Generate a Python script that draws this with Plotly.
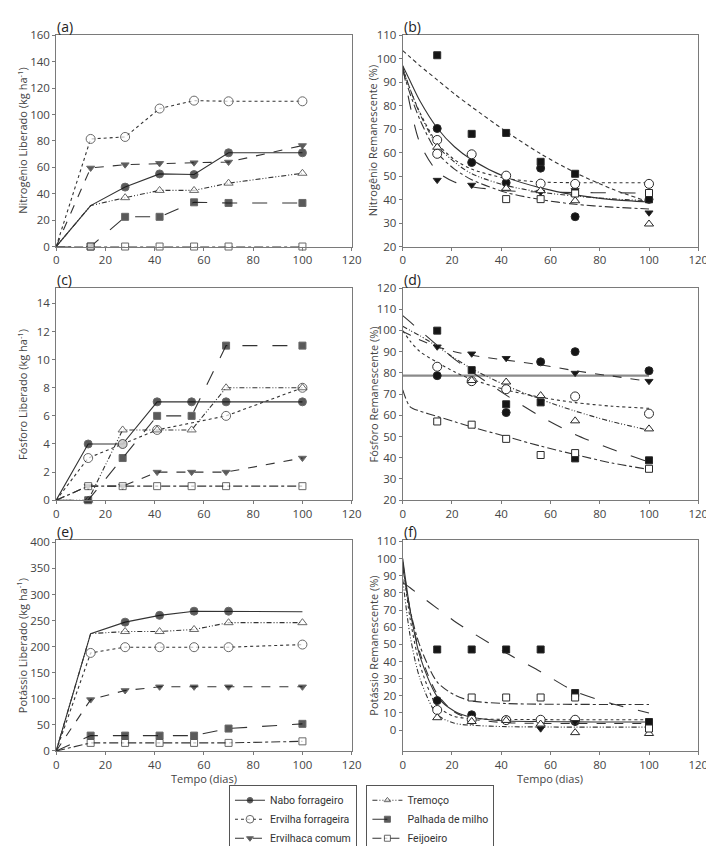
import plotly.graph_objects as go

# ---------------- DATA ----------------
SERIES = ["Nabo forrageiro", "Ervilha forrageira", "Ervilhaca comum",
          "Tremoço", "Palhada de milho", "Feijoeiro"]

# (a) Nitrogen released (kg/ha)
X_A = [0, 14, 28, 42, 56, 70, 100]
A_NABO = [0, 31, 45, 55, 54.5, 71, 71]
A_ERVILHA = [0, 81.5, 83, 104.5, 110.5, 110, 110]
A_ERVILHACA = [0, 59.5, 62, 63, 63.5, 64, 76.5]
A_TREMOCO = [0, 31, 37, 42.5, 42.5, 48, 55.5]
A_PALHADA = [0, 0, 22.5, 22.5, 33.5, 33, 33]
A_FEIJOEIRO = [0, 0, 0, 0, 0, 0, 0]

# (b) Nitrogen remaining (%) - observed
X_B = [14, 28, 42, 56, 70, 100]
B_NABO = [70.3, 55.8, 47.2, 53.4, 32.7, 40.1]
B_ERVILHA = [65.4, 59.3, 50.2, 46.8, 46.7, 46.7]
B_ERVILHA_EXTRA_X = [14]
B_ERVILHA_EXTRA = [59.5]
B_ERVILHACA = [48.3, 46.2, None, 43.2, 43.9, 34.4]
B_TREMOCO = [62.3, None, 44.8, 43.8, 39.5, 29.6]
B_PALHADA = [101.5, 68.0, 68.4, 56.1, 51.0, 40.1]
B_FEIJOEIRO = [None, None, 40.2, 40.2, 42.6, 42.8]
# (b) fitted curves
XC = [0, 3, 7, 14, 21, 28, 42, 56, 70, 85, 100]
BC_NABO = [97, 90.5, 82, 70.5, 62.5, 57, 49.5, 45, 42, 40, 39]
BC_ERVILHA = [96, 87, 77, 64, 57, 53, 49, 47.5, 47.2, 47.2, 47.2]
BC_ERVILHACA = [97, 80, 64, 52, 47.5, 45.5, 43.8, 43.2, 43, 42.9, 42.8]
BC_TREMOCO = [96, 87, 76.5, 63, 56, 51, 46, 43.2, 41.5, 40.3, 39.5]
BC_PALHADA = [103.5, 100.7, 97, 91, 85, 79.5, 69, 59.5, 51.5, 44.5, 39]
BC_FEIJOEIRO = [95, 85, 74, 60, 53, 48.5, 43, 40, 38, 36.8, 36]

# (c) Phosphorus released (kg/ha)
X_C = [0, 13, 27, 41, 55, 69, 100]
C_NABO = [0, 4, 4, 7, 7, 7, 7]
C_ERVILHA = [0, 3, 4, 5, None, 6, 8]
C_ERVILHACA = [0, 1, 1, 2, 2, 2, 3]
C_TREMOCO = [0, 0, 5, 5, 5, 8, 8]
C_PALHADA = [0, 0, 3, 6, 6, 11, 11]
C_FEIJOEIRO = [0, 1, 1, 1, 1, 1, 1]

# (d) Phosphorus remaining (%) - observed
X_D = [14, 28, 42, 56, 70, 100]
D_NABO = [78.7, None, 61.3, 85.2, 90.0, 81.0]
D_ERVILHA = [82.9, 76.1, 72.3, None, 68.9, 60.8]
D_ERVILHACA = [92.3, 89.0, 86.9, None, 79.9, 76.1]
D_TREMOCO = [None, 76.4, 75.7, 69.3, 57.4, 53.6]
D_PALHADA = [99.9, 81.3, 65.2, 66.1, 39.7, 38.8]
D_FEIJOEIRO = [57.1, 55.6, 48.9, 41.3, 42.2, 34.8]
# (d) fitted curves
DC_NABO = [78.7] * 11
DC_ERVILHA = [100, 95, 90, 85, 80.5, 77, 72, 68.5, 66, 64.3, 63.3]
DC_ERVILHACA = [99.5, 97.8, 95.5, 92.3, 90, 88.3, 86, 83.8, 81, 78.5, 76]
DC_TREMOCO = [102, 100, 97.5, 92.5, 87, 82, 74, 67.5, 62, 57, 53]
DC_PALHADA = [107, 104, 100, 93, 86.5, 80.5, 69.5, 59.5, 51, 44, 38]
DC_FEIJOEIRO = [72, 64, 62, 59.5, 57, 54.5, 50, 45.5, 41.5, 37.5, 34.5]

# (e) Potassium released (kg/ha)
X_E = [0, 14, 28, 42, 56, 70, 100]
E_NABO = [0, 225, 247, 260, 268, 268, 267]
E_ERVILHA = [0, 188, 199, 199, 199, 199, 204]
E_ERVILHACA = [0, 98.5, 116, 123, 123, 123, 123]
E_TREMOCO = [0, 225, 229, 229, 233, 246, 246]
E_PALHADA = [0, 29.5, 29.5, 29.5, 29.5, 43, 52]
E_FEIJOEIRO = [0, 15.5, 15.5, 15.5, 15.5, 15.5, 18.5]

# (f) Potassium remaining (%) - observed
X_F = [14, 28, 42, 56, 70, 100]
F_NABO = [17.2, 8.9, 6.0, None, 5.0, None]
F_ERVILHA = [11.7, 6.0, 5.8, 6.0, 6.0, None]
F_ERVILHACA = [None, None, None, 0.8, 4.5, None]
F_TREMOCO = [7.2, 5.0, 5.6, 3.5, -1.5, -2.0]
F_PALHADA = [47, 47, 47, 47, 21.6, 4.7]
F_FEIJOEIRO = [None, 19, 19, 19, 19, 0.9]
# (f) fitted curves
FC_NABO = [100, 70, 43, 19.5, 11, 7.5, 5.3, 5, 4.8, 4.7, 4.7]
FC_ERVILHA = [97, 65, 38, 14, 8, 6.7, 6.2, 6.1, 6, 6, 6]
FC_ERVILHACA = [98, 70, 45, 21, 10.5, 6.5, 4.3, 3.9, 3.8, 3.8, 3.8]
FC_TREMOCO = [88, 55, 30, 9, 4, 2.8, 2, 1.8, 1.7, 1.7, 1.7]
FC_PALHADA = [86, 83, 78.5, 71, 63.5, 57, 45, 34, 22.5, 15.4, 10]
FC_FEIJOEIRO = [95, 70, 49, 28, 20.5, 17, 15.5, 15.1, 15, 14.9, 14.9]

TITLES_Y = ["Nitrogênio Liberado (kg ha<sup>-1</sup>)", "Nitrogênio Remanescente (%)",
            "Fósforo Liberado (kg ha<sup>-1</sup>)", "Fósforo Remanescente (%)",
            "Potássio Liberado (kg ha<sup>-1</sup>)", "Potássio Remanescente (%)"]
PANEL_LABELS = ["(a)", "(b)", "(c)", "(d)", "(e)", "(f)"]
X_TITLE = "Tempo (dias)"

# ---------------- STYLES ----------------
W, H = 714, 846
FONT = "Open Sans"
LC = "#333333"
STYLE = {
    "Nabo forrageiro": dict(dash="solid", symbol="circle", fill="#151515", size=8),
    "Ervilha forrageira": dict(dash="dot", symbol="circle", fill="white", size=9),
    "Ervilhaca comum": dict(dash="dash", symbol="triangle-down", fill="#151515", size=7),
    "Tremoço": dict(dash="5px,2px,1px,2px,1px,2px", symbol="triangle-up", fill="white", size=8),
    "Palhada de milho": dict(dash="longdash", symbol="square", fill="#151515", size=7),
    "Feijoeiro": dict(dash="dashdot", symbol="square", fill="white", size=7),
}
CURVE_DASH_B = {"Palhada de milho": "4px,3px", "Ervilhaca comum": "longdash"}

# pixel boxes for panels: (left, right, top, bottom)
COLS = [(46, 347), (399, 700)]
ROWS = [(20, 239), (282, 502), (543, 762)]

fig = go.Figure()


def ax_names(i):
    n = "" if i == 0 else str(i + 1)
    return "x" + n, "y" + n, "xaxis" + n, "yaxis" + n


def marker(name, sizes=None):
    st = STYLE[name]
    return dict(symbol=st["symbol"], size=sizes if sizes is not None else st["size"],
                color=st["fill"], line=dict(color="#2a2a2a", width=1))


def released(i, xs, series_vals, hidden=None, show_legend=False):
    xa, ya, _, _ = ax_names(i)
    hidden = hidden or {}
    for name, vals in zip(SERIES, series_vals):
        st = STYLE[name]
        sizes = [0 if (j == 0 or j in hidden.get(name, [])) else st["size"]
                 for j in range(len(xs))]
        leg = "legend" if SERIES.index(name) < 3 else "legend2"
        fig.add_trace(go.Scatter(
            x=xs, y=vals, mode="lines+markers", name=name, xaxis=xa, yaxis=ya,
            line=dict(color=LC, width=1.1, dash=st["dash"]),
            marker=marker(name, sizes), connectgaps=True, cliponaxis=False,
            showlegend=show_legend, legend=leg))


def remaining(i, xs, obs, curves, extra=None):
    xa, ya, _, _ = ax_names(i)
    for name, cur in zip(SERIES, curves):
        st = STYLE[name]
        lw, lc = 1.1, LC
        dash = st["dash"]
        if i == 1 and name in CURVE_DASH_B:
            dash = CURVE_DASH_B[name]
        if i == 3 and name == "Nabo forrageiro":
            lw, lc = 2.2, "#8a8a8a"
        fig.add_trace(go.Scatter(
            x=XC, y=cur, mode="lines", xaxis=xa, yaxis=ya, showlegend=False,
            line=dict(color=lc, width=lw, dash=dash, shape="spline", smoothing=0.8),
            cliponaxis=True))
    for name, vals in zip(SERIES, obs):
        fig.add_trace(go.Scatter(
            x=xs, y=vals, mode="markers", xaxis=xa, yaxis=ya, showlegend=False,
            marker=marker(name), cliponaxis=False))
    if extra:
        for name, ex, ey in extra:
            fig.add_trace(go.Scatter(
                x=ex, y=ey, mode="markers", xaxis=xa, yaxis=ya, showlegend=False,
                marker=marker(name), cliponaxis=False))


released(0, X_A, [A_NABO, A_ERVILHA, A_ERVILHACA, A_TREMOCO, A_PALHADA, A_FEIJOEIRO],
         hidden={"Nabo forrageiro": [1], "Tremoço": [1]}, show_legend=True)
remaining(1, X_B, [B_NABO, B_ERVILHA, B_ERVILHACA, B_TREMOCO, B_PALHADA, B_FEIJOEIRO],
          [BC_NABO, BC_ERVILHA, BC_ERVILHACA, BC_TREMOCO, BC_PALHADA, BC_FEIJOEIRO],
          extra=[("Ervilha forrageira", B_ERVILHA_EXTRA_X, B_ERVILHA_EXTRA)])
released(2, X_C, [C_NABO, C_ERVILHA, C_ERVILHACA, C_TREMOCO, C_PALHADA, C_FEIJOEIRO])
remaining(3, X_D, [D_NABO, D_ERVILHA, D_ERVILHACA, D_TREMOCO, D_PALHADA, D_FEIJOEIRO],
          [DC_NABO, DC_ERVILHA, DC_ERVILHACA, DC_TREMOCO, DC_PALHADA, DC_FEIJOEIRO])
released(4, X_E, [E_NABO, E_ERVILHA, E_ERVILHACA, E_TREMOCO, E_PALHADA, E_FEIJOEIRO],
         hidden={"Nabo forrageiro": [1, 6], "Tremoço": [1]})
remaining(5, X_F, [F_NABO, F_ERVILHA, F_ERVILHACA, F_TREMOCO, F_PALHADA, F_FEIJOEIRO],
          [FC_NABO, FC_ERVILHA, FC_ERVILHACA, FC_TREMOCO, FC_PALHADA, FC_FEIJOEIRO])

Y_RANGES = [[0, 160], [20, 110], [0, 15.1], [20, 120], [0, 405], [-12.2, 111]]
Y_DTICK = [20, 10, 2, 10, 50, 10]
Y_TICKS_F = list(range(0, 111, 10))

layout = dict(width=W, height=H, margin=dict(l=0, r=0, t=0, b=0),
              paper_bgcolor="white", plot_bgcolor="white",
              font=dict(family=FONT, color="#444", size=12))
ann = []
for i in range(6):
    r, c = divmod(i, 2)
    (l, rr), (t, b) = COLS[c], ROWS[r]
    xa, ya, xk, yk = ax_names(i)
    axstyle = dict(showline=True, linecolor="#7a7a7a", linewidth=1, mirror=True,
                   showgrid=False, zeroline=False, ticks="outside", ticklen=3,
                   tickcolor="#7a7a7a", tickfont=dict(size=11.5, color="#444"))
    layout[xk] = dict(domain=[l / W, rr / W], anchor=ya, range=[0, 120],
                      tickmode="linear", tick0=0, dtick=20, **axstyle)
    yd = dict(domain=[1 - b / H, 1 - t / H], anchor=xa, range=Y_RANGES[i], **axstyle)
    if i == 5:
        yd.update(tickmode="array", tickvals=Y_TICKS_F)
    else:
        yd.update(tickmode="linear", tick0=0, dtick=Y_DTICK[i])
    layout[yk] = yd
    ann.append(dict(text=PANEL_LABELS[i], x=(l - 1) / W, y=1 - (t - 9) / H,
                    xref="paper", yref="paper", xanchor="left", yanchor="middle",
                    showarrow=False, font=dict(size=14, color="#222")))
    tx = 12 if c == 0 else 369
    ann.append(dict(text=TITLES_Y[i], x=tx / W, y=1 - ((t + b) / 2) / H,
                    xref="paper", yref="paper", xanchor="center", yanchor="middle",
                    textangle=-90, showarrow=False, font=dict(size=11, color="#444")))
    if r == 2:
        ann.append(dict(text=X_TITLE, x=((l + rr) / 2) / W, y=1 - 791 / H,
                        xref="paper", yref="paper", xanchor="center", yanchor="middle",
                        showarrow=False, borderpad=0,
                        font=dict(size=11, color="#444")))

layout["annotations"] = ann
legend_common = dict(bgcolor="white", bordercolor="#555", borderwidth=1,
                     font=dict(size=10.5, color="#333", family="Roboto"),
                     xanchor="left", yanchor="top",
                     itemwidth=30, tracegroupgap=0, traceorder="normal")
layout["legend"] = dict(x=222 / W, y=1 - 797 / H, **legend_common)
layout["legend2"] = dict(x=362 / W, y=1 - 797 / H, **legend_common)
fig.update_layout(**layout)

fig.write_html("out.html")
